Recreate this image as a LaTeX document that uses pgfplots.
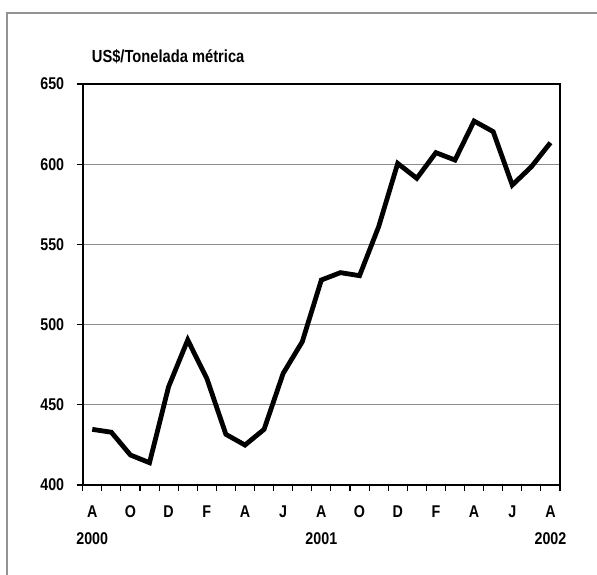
\documentclass[border=0pt]{standalone}
\usepackage{fontspec}
\setmainfont{Liberation Sans}[FakeStretch=0.84]
\usepackage{pgfplots}
\pgfplotsset{compat=1.18}
\pgfplotstableread{
x y
0 434.7
1 432.9
2 418.7
3 413.9
4 461.3
5 490.4
6 466.5
7 431.6
8 424.9
9 434.7
10 469.6
11 489.3
12 527.8
13 532.4
14 530.5
15 561.0
16 600.5
17 591.2
18 607.2
19 602.6
20 626.9
21 620.3
22 587.0
23 598.4
24 613.4
}\prices
\begin{document}
\begin{tikzpicture}[x=1pt,y=1pt]
\useasboundingbox (0,0) rectangle (597,-575);
\draw[line width=2.2pt, color=gray!85] (6.7,-575) -- (6.7,-12.7) -- (597,-12.7);
\node[anchor=base west, inner sep=0pt, font=\fontsize{17.5}{20}\selectfont\bfseries] at (91.7,-62.7) {US\$/Tonelada métrica};
\begin{axis}[
  at={(82.7pt,-485pt)}, anchor=south west,
  scale only axis, width=477.3pt, height=401pt,
  xmin=-0.5, xmax=24.5, ymin=400, ymax=650,
  axis line style={line width=1.8pt, black},
  tick style={line width=1.1pt, black},
  tick align=outside,
  tick pos=left,
  major tick length=6pt,
  xtick={-0.5,0.5,...,24.5},
  xticklabels={},
  extra x ticks={0,2,...,24},
  extra x tick labels={{A\\[2.5pt]2000},O,D,F,A,J,{A\\[2.5pt]2001},O,D,F,A,J,{A\\[2.5pt]2002}},
  extra x tick style={major tick length=0pt, grid=none,
    tick label style={font=\fontsize{17}{24.5}\selectfont\bfseries, align=center, yshift=-17pt}},
  ytick={400,450,...,650},
  ymajorgrids,
  grid style={line width=1pt, color=gray!90},
  yticklabel style={font=\fontsize{17}{20}\selectfont\bfseries, xshift=-9pt},
  /pgf/number format/assume math mode=true,
  clip=false,
]
\addplot[line width=4.8pt, black, line join=miter, miter limit=3] table[x=x,y=y] {\prices};
\end{axis}
\end{tikzpicture}
\end{document}
